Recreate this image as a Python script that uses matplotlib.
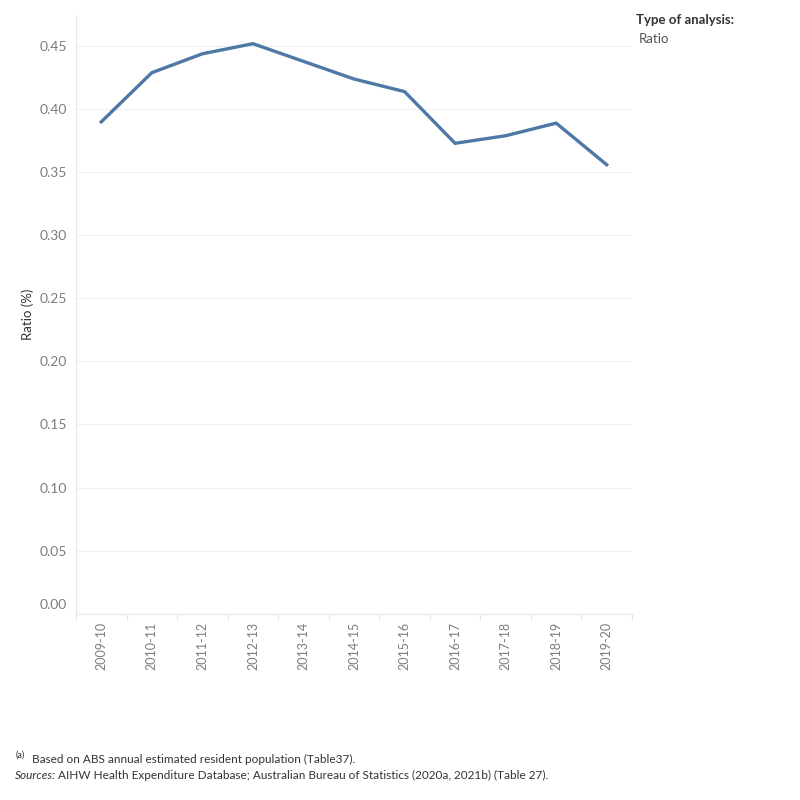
import matplotlib.pyplot as plt

plt.rcParams['font.family'] = ['Lato', 'DejaVu Sans']

# data
years = ['2009-10', '2010-11', '2011-12', '2012-13', '2013-14', '2014-15',
         '2015-16', '2016-17', '2017-18', '2018-19', '2019-20']
ratio = [0.390, 0.429, 0.444, 0.452, 0.438, 0.424,
         0.414, 0.373, 0.379, 0.389, 0.356]
y_ticks = [0.00, 0.05, 0.10, 0.15, 0.20, 0.25, 0.30, 0.35, 0.40, 0.45]

fig = plt.figure(figsize=(8, 8), dpi=100)
ax = fig.add_axes([0.095, 0.233, 0.695, 0.748])

x = list(range(len(years)))
ax.plot(x, ratio, color='#4e79a7', linewidth=2.4, solid_joinstyle='miter')

ax.set_xlim(-0.5, len(years) - 0.5)
ax.set_ylim(0, 0.4746)
ax.set_yticks(y_ticks)
# the 0.00 label sits a little above the axis line, drawn separately below
ax.set_yticklabels([''] + [f'{v:.2f}' for v in y_ticks[1:]])
ax.annotate(f'{y_ticks[0]:.2f}', xy=(0, y_ticks[0]), xycoords=('axes fraction', 'data'),
            xytext=(-6.5, 6), textcoords='offset points', ha='right', va='center',
            fontsize=10, color='#7d7d7d')
ax.set_xticks(x)
ax.set_xticklabels(years, rotation=90)

# separators between categories below the axis
ax.set_xticks([i - 0.5 for i in range(len(years) + 1)], minor=True)
ax.tick_params(axis='x', which='minor', length=4, color='#e3e3e3', width=0.8)
ax.tick_params(axis='x', which='major', length=0, pad=6, labelsize=9,
               labelcolor='#7d7d7d')
ax.tick_params(axis='y', length=0, pad=6.5, labelsize=10, labelcolor='#7d7d7d')

ax.grid(axis='y', color='#f0f0f0', linewidth=0.8)
ax.set_axisbelow(True)
for side in ['top', 'right']:
    ax.spines[side].set_visible(False)
for side in ['left', 'bottom']:
    ax.spines[side].set_color('#e6e6e6')
    ax.spines[side].set_linewidth(0.8)

ax.set_ylabel('Ratio (%)', fontsize=9.5, color='#333333')
ax.yaxis.set_label_coords(-0.075, 0.5)

# legend-like header on the right
fig.text(0.795, 0.975, 'Type of analysis:', fontsize=9.5, fontweight='bold',
         color='#333333', va='center')
fig.text(0.799, 0.951, 'Ratio', fontsize=9.5, color='#555555', va='center')

# footnotes
fig.text(0.019, 0.051, '(a)', fontsize=6.5, color='#333333', va='bottom')
fig.text(0.040, 0.051, 'Based on ABS annual estimated resident population (Table37).',
         fontsize=8.5, color='#333333', va='center')
fig.text(0.019, 0.031, 'Sources:', fontsize=8.5, color='#333333',
         style='italic', va='center')
fig.text(0.073, 0.031,
         'AIHW Health Expenditure Database; Australian Bureau of Statistics '
         '(2020a, 2021b) (Table 27).',
         fontsize=8.5, color='#333333', va='center')

plt.savefig('out.png', dpi=100)
